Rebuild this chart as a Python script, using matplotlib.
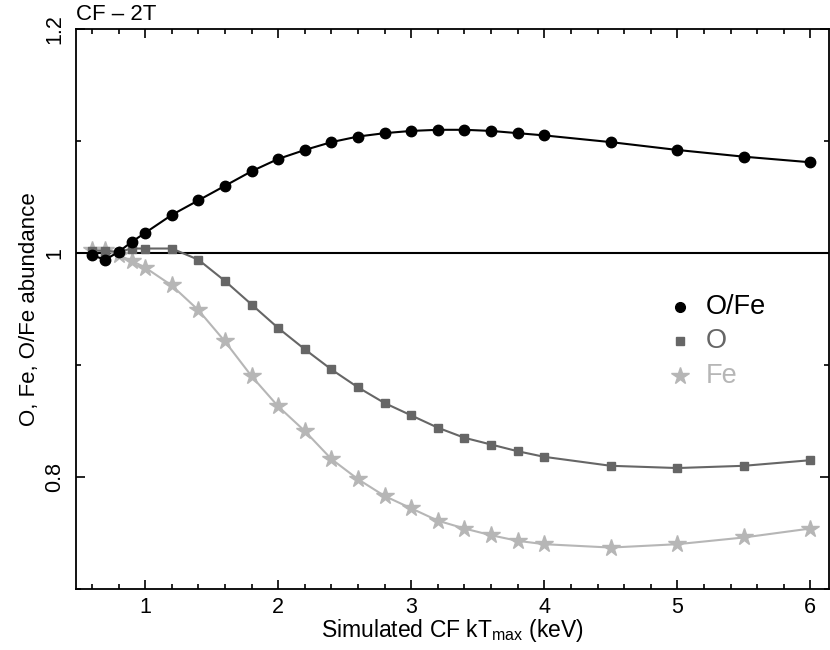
import matplotlib
matplotlib.use("Agg")
import matplotlib.pyplot as plt
from matplotlib.ticker import MultipleLocator, FixedLocator

plt.rcParams['font.family'] = ['Liberation Sans', 'DejaVu Sans']
plt.rcParams['mathtext.fontset'] = 'custom'
plt.rcParams['mathtext.rm'] = 'Liberation Sans'
plt.rcParams['mathtext.it'] = 'Liberation Sans'

kt = [0.6, 0.7, 0.8, 0.9, 1.0, 1.2, 1.4, 1.6, 1.8, 2.0, 2.2, 2.4, 2.6, 2.8,
      3.0, 3.2, 3.4, 3.6, 3.8, 4.0, 4.5, 5.0, 5.5, 6.0]
ofe = [0.998, 0.994, 1.001, 1.010, 1.018, 1.034, 1.047, 1.060, 1.073, 1.084,
       1.092, 1.099, 1.104, 1.107, 1.109, 1.110, 1.110, 1.109, 1.107, 1.105,
       1.099, 1.092, 1.086, 1.081]
o = [1.002, 1.002, 1.001, 1.004, 1.004, 1.004, 0.994, 0.975, 0.954, 0.933,
     0.914, 0.896, 0.880, 0.866, 0.855, 0.844, 0.835, 0.829, 0.823, 0.818,
     0.810, 0.808, 0.810, 0.815]
fe = [1.003, 1.003, 0.998, 0.993, 0.987, 0.971, 0.949, 0.921, 0.890, 0.863,
      0.841, 0.816, 0.798, 0.783, 0.772, 0.761, 0.754, 0.748, 0.743, 0.740,
      0.737, 0.740, 0.746, 0.754]
series_labels = ['O/Fe', 'O', 'Fe']

c_ofe = 'black'
c_o = '#666666'
c_fe = '#b6b6b6'

fig = plt.figure(figsize=(8.3, 6.5), dpi=100)
ax = fig.add_axes([76/830, 1-589/650, (829-76)/830, (589-29)/650])

ax.axhline(1.0, color='black', lw=1.5, zorder=1)
ax.plot(kt, fe, color=c_fe, lw=1.5, marker='*', ms=13, mec=c_fe, mfc=c_fe, zorder=2)
ax.plot(kt, o, color=c_o, lw=1.5, marker='s', ms=6, mec=c_o, mfc=c_o, zorder=3)
ax.plot(kt, ofe, color=c_ofe, lw=1.5, marker='o', ms=7.5, mec=c_ofe, mfc=c_ofe, zorder=4)

ax.set_xlim(0.48, 6.14)
ax.set_ylim(0.7, 1.2)

ax.xaxis.set_major_locator(MultipleLocator(1))
ax.xaxis.set_minor_locator(MultipleLocator(0.2))
ax.yaxis.set_major_locator(FixedLocator([0.8, 1.0, 1.2]))
ax.yaxis.set_minor_locator(MultipleLocator(0.1))
ax.set_yticklabels(['0.8', '1', '1.2'], rotation=90, va='center')
ax.tick_params(which='both', direction='in', top=True, right=True, labelsize=15.5, width=1.2)
ax.tick_params(which='major', length=6.5)
ax.tick_params(which='minor', length=3.5)
ax.tick_params(axis='x', pad=6)
ax.tick_params(axis='y', pad=8)
for s in ax.spines.values():
    s.set_linewidth(1.3)

ax.set_xlabel(r'Simulated CF kT$_{\mathregular{max}}$ (keV)', fontsize=16.5, labelpad=-1)
ax.set_ylabel('O, Fe, O/Fe abundance', fontsize=16, labelpad=3)
ax.text(0.0, 1.008, 'CF \u2013 2T', transform=ax.transAxes, fontsize=16, ha='left', va='bottom')

# legend drawn as markers + coloured text
leg_y = [1.0 - (307 - 253) / 1122.5, 1.0 - (341 - 253) / 1122.5, 1.0 - (376 - 253) / 1122.5]
leg_x_m = 0.48 + (680 - 76) / 133.0
leg_x_t = 0.48 + (706 - 76) / 133.0
for yv, mk, ms, col, lab in zip(leg_y, ['o', 's', '*'], [7, 6, 13],
                                [c_ofe, c_o, c_fe], series_labels):
    ax.plot([leg_x_m], [yv], marker=mk, ms=ms, color=col, ls='none')
    ax.text(leg_x_t, yv, lab, color=col, fontsize=19.5, va='center', ha='left')

fig.savefig('out.png', dpi=100)
